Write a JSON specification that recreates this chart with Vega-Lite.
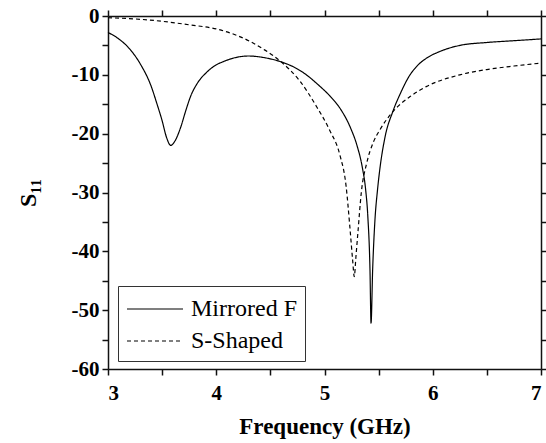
{
  "$schema": "https://vega.github.io/schema/vega-lite/v6.json",
  "width": 433,
  "height": 353,
  "autosize": {"type": "none"},
  "padding": {"left": 108, "top": 16, "right": 5, "bottom": 74},
  "background": "white",
  "config": {
    "view": {"stroke": null},
    "axis": {
      "domainColor": "#111",
      "domainWidth": 1.5,
      "tickColor": "#111",
      "tickWidth": 1.5,
      "tickSize": 6,
      "grid": false,
      "labelFont": "Liberation Serif",
      "labelFontWeight": "bold",
      "labelFontSize": 21,
      "labelColor": "black",
      "titleFont": "Liberation Serif",
      "titleFontWeight": "bold",
      "titleFontSize": 23,
      "titleColor": "black"
    }
  },
  "data": {
    "values": [
      {"f": 3.0, "s": -2.8, "series": "Mirrored F"},
      {"f": 3.1, "s": -3.9, "series": "Mirrored F"},
      {"f": 3.2, "s": -5.6, "series": "Mirrored F"},
      {"f": 3.3, "s": -8.2, "series": "Mirrored F"},
      {"f": 3.4, "s": -12.0, "series": "Mirrored F"},
      {"f": 3.45, "s": -14.8, "series": "Mirrored F"},
      {"f": 3.5, "s": -17.8, "series": "Mirrored F"},
      {"f": 3.54, "s": -20.6, "series": "Mirrored F"},
      {"f": 3.58, "s": -22.0, "series": "Mirrored F"},
      {"f": 3.62, "s": -21.2, "series": "Mirrored F"},
      {"f": 3.67, "s": -19.0, "series": "Mirrored F"},
      {"f": 3.72, "s": -16.0, "series": "Mirrored F"},
      {"f": 3.76, "s": -13.8, "series": "Mirrored F"},
      {"f": 3.83, "s": -11.3, "series": "Mirrored F"},
      {"f": 3.91, "s": -9.6, "series": "Mirrored F"},
      {"f": 4.0, "s": -8.3, "series": "Mirrored F"},
      {"f": 4.06, "s": -7.8, "series": "Mirrored F"},
      {"f": 4.15, "s": -7.2, "series": "Mirrored F"},
      {"f": 4.3, "s": -6.8, "series": "Mirrored F"},
      {"f": 4.45, "s": -7.1, "series": "Mirrored F"},
      {"f": 4.6, "s": -7.8, "series": "Mirrored F"},
      {"f": 4.75, "s": -9.0, "series": "Mirrored F"},
      {"f": 4.84, "s": -10.1, "series": "Mirrored F"},
      {"f": 4.93, "s": -11.5, "series": "Mirrored F"},
      {"f": 5.05, "s": -13.6, "series": "Mirrored F"},
      {"f": 5.14, "s": -15.6, "series": "Mirrored F"},
      {"f": 5.24, "s": -19.0, "series": "Mirrored F"},
      {"f": 5.3, "s": -22.0, "series": "Mirrored F"},
      {"f": 5.35, "s": -25.8, "series": "Mirrored F"},
      {"f": 5.38, "s": -29.5, "series": "Mirrored F"},
      {"f": 5.4, "s": -34.0, "series": "Mirrored F"},
      {"f": 5.42, "s": -43.0, "series": "Mirrored F"},
      {"f": 5.43, "s": -52.2, "series": "Mirrored F"},
      {"f": 5.445, "s": -43.0, "series": "Mirrored F"},
      {"f": 5.465, "s": -35.0, "series": "Mirrored F"},
      {"f": 5.49, "s": -29.5, "series": "Mirrored F"},
      {"f": 5.51, "s": -26.2, "series": "Mirrored F"},
      {"f": 5.56, "s": -20.5, "series": "Mirrored F"},
      {"f": 5.63, "s": -16.3, "series": "Mirrored F"},
      {"f": 5.7, "s": -13.2, "series": "Mirrored F"},
      {"f": 5.79, "s": -10.0, "series": "Mirrored F"},
      {"f": 5.86, "s": -8.4, "series": "Mirrored F"},
      {"f": 5.94, "s": -7.2, "series": "Mirrored F"},
      {"f": 6.07, "s": -6.0, "series": "Mirrored F"},
      {"f": 6.25, "s": -5.0, "series": "Mirrored F"},
      {"f": 6.5, "s": -4.5, "series": "Mirrored F"},
      {"f": 6.75, "s": -4.2, "series": "Mirrored F"},
      {"f": 7.0, "s": -3.9, "series": "Mirrored F"},
      {"f": 3.0, "s": -0.3, "series": "S-Shaped"},
      {"f": 3.25, "s": -0.5, "series": "S-Shaped"},
      {"f": 3.5, "s": -0.9, "series": "S-Shaped"},
      {"f": 3.75, "s": -1.5, "series": "S-Shaped"},
      {"f": 4.0, "s": -2.2, "series": "S-Shaped"},
      {"f": 4.19, "s": -3.3, "series": "S-Shaped"},
      {"f": 4.31, "s": -4.3, "series": "S-Shaped"},
      {"f": 4.45, "s": -5.8, "series": "S-Shaped"},
      {"f": 4.6, "s": -7.8, "series": "S-Shaped"},
      {"f": 4.77, "s": -11.0, "series": "S-Shaped"},
      {"f": 4.93, "s": -15.5, "series": "S-Shaped"},
      {"f": 5.05, "s": -19.5, "series": "S-Shaped"},
      {"f": 5.14, "s": -23.5, "series": "S-Shaped"},
      {"f": 5.2, "s": -29.0, "series": "S-Shaped"},
      {"f": 5.235, "s": -36.0, "series": "S-Shaped"},
      {"f": 5.26, "s": -41.5, "series": "S-Shaped"},
      {"f": 5.275, "s": -44.3, "series": "S-Shaped"},
      {"f": 5.29, "s": -41.0, "series": "S-Shaped"},
      {"f": 5.31, "s": -36.5, "series": "S-Shaped"},
      {"f": 5.34, "s": -30.0, "series": "S-Shaped"},
      {"f": 5.39, "s": -25.0, "series": "S-Shaped"},
      {"f": 5.45, "s": -21.5, "series": "S-Shaped"},
      {"f": 5.51, "s": -19.4, "series": "S-Shaped"},
      {"f": 5.63, "s": -16.3, "series": "S-Shaped"},
      {"f": 5.79, "s": -13.7, "series": "S-Shaped"},
      {"f": 5.94, "s": -12.0, "series": "S-Shaped"},
      {"f": 6.25, "s": -10.0, "series": "S-Shaped"},
      {"f": 6.5, "s": -9.1, "series": "S-Shaped"},
      {"f": 6.75, "s": -8.5, "series": "S-Shaped"},
      {"f": 7.0, "s": -8.0, "series": "S-Shaped"}
    ]
  },
  "layer": [
    {
      "mark": {"type": "line", "interpolate": "monotone", "color": "black", "strokeWidth": 1.2},
      "encoding": {
        "x": {
          "field": "f", "type": "quantitative",
          "scale": {"domain": [3, 7], "nice": false, "zero": false},
          "axis": {
            "title": "Frequency (GHz)",
            "values": [3, 3.5, 4, 4.5, 5, 5.5, 6, 6.5, 7],
            "labelExpr": "datum.value % 1 == 0 ? '' + datum.value : ''",
            "labelPadding": 7,
            "titlePadding": 12
          }
        },
        "y": {
          "field": "s", "type": "quantitative",
          "scale": {"domain": [-60, 0], "nice": false, "zero": false},
          "axis": {
            "title": "S₁₁",
            "titleFontSize": 24,
            "values": [-60, -55, -50, -45, -40, -35, -30, -25, -20, -15, -10, -5, 0],
            "labelExpr": "datum.value % 10 == 0 ? '' + datum.value : ''",
            "labelPadding": 3,
            "titlePadding": 31
          }
        },
        "strokeDash": {
          "field": "series", "type": "nominal",
          "scale": {"domain": ["Mirrored F", "S-Shaped"], "range": [[1, 0], [4, 3]]},
          "legend": {
            "title": null,
            "orient": "none",
            "legendX": 10,
            "legendY": 270,
            "direction": "vertical",
            "strokeColor": "#333",
            "fillColor": "white",
            "padding": 8,
            "symbolType": "M-2,0H2",
            "symbolSize": 784,
            "symbolOffset": 14,
            "symbolStrokeWidth": 1.2,
            "symbolStrokeColor": "black",
            "labelFont": "Liberation Serif",
            "labelFontSize": 24,
            "labelColor": "black",
            "labelOffset": 21,
            "labelLimit": 300,
            "rowPadding": 5
          }
        }
      }
    },
    {
      "mark": {"type": "line", "opacity": 0},
      "encoding": {
        "x": {
          "field": "f", "type": "quantitative",
          "axis": {"orient": "top", "title": null, "labels": false, "values": [3, 3.5, 4, 4.5, 5, 5.5, 6, 6.5, 7]}
        },
        "y": {
          "field": "s", "type": "quantitative",
          "axis": {"orient": "right", "title": null, "labels": false, "values": [-60, -55, -50, -45, -40, -35, -30, -25, -20, -15, -10, -5, 0]}
        },
        "detail": {"field": "series"}
      }
    }
  ],
  "resolve": {"axis": {"x": "independent", "y": "independent"}}
}
